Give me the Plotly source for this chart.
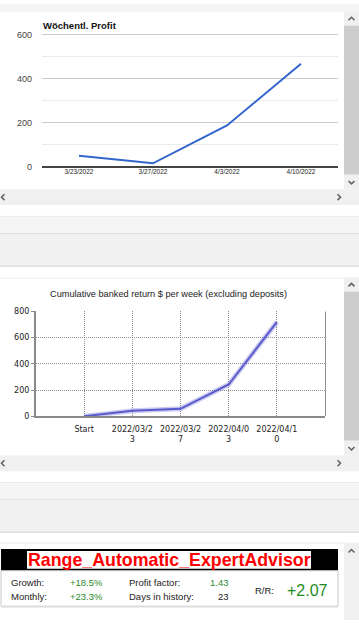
import plotly.graph_objects as go

# ---------------- data ----------------
weekly_dates = ["3/23/2022", "3/27/2022", "4/3/2022", "4/10/2022"]
weekly_profit = [49, 15, 187, 467]

cum_weeks = ["Start", "2022/03/23", "2022/03/27", "2022/04/03", "2022/04/10"]
cum_return = [0, 42, 57, 242, 717]

ea_name = "Range_Automatic_ExpertAdvisor"
stat_labels_a = ["Growth:", "Monthly:"]
stat_values_a = ["+18.5%", "+23.3%"]
stat_labels_b = ["Profit factor:", "Days in history:"]
stat_values_b = ["1.43", "23"]
stat_values_b_colors = ["#2e8b2e", "#222222"]
rr_label = "R/R:"
rr_value = "+2.07"

title1 = "Wöchentl. Profit"
title2 = "Cumulative banked return $ per week (excluding deposits)"

# ---------------- helpers ----------------
W, H = 359, 625
def fx(x): return x / W
def fy(y): return 1 - y / H

FONT = "Arial, 'Liberation Sans', sans-serif"
TAHOMA = "'DejaVu Sans', Verdana, sans-serif"

shapes = []
annotations = []

def rect(x0, y0, x1, y1, fill, line=None, lw=0):
    shapes.append(dict(type="rect", xref="paper", yref="paper",
                       x0=fx(x0), x1=fx(x1), y0=fy(y1), y1=fy(y0),
                       fillcolor=fill, line=dict(color=line or fill, width=lw),
                       layer="below"))

def hline(x0, x1, y, color, w=1):
    shapes.append(dict(type="line", xref="paper", yref="paper",
                       x0=fx(x0), x1=fx(x1), y0=fy(y), y1=fy(y),
                       line=dict(color=color, width=w), layer="below"))

def chevron(cx, cy, d):
    s = 3
    if d == "up":
        pts = [(cx - s, cy + 1.5), (cx, cy - 1.5), (cx + s, cy + 1.5)]
    elif d == "down":
        pts = [(cx - s, cy - 1.5), (cx, cy + 1.5), (cx + s, cy - 1.5)]
    elif d == "left":
        pts = [(cx + 1.5, cy - s), (cx - 1.5, cy), (cx + 1.5, cy + s)]
    else:
        pts = [(cx - 1.5, cy - s), (cx + 1.5, cy), (cx - 1.5, cy + s)]
    path = "M " + " L ".join(f"{fx(a)},{fy(b)}" for a, b in pts)
    shapes.append(dict(type="path", xref="paper", yref="paper", path=path,
                       line=dict(color="#606060", width=1.5), layer="above"))

def text(x, y, t, size=10, color="#222", xanchor="left", family=FONT, bold=False):
    if bold:
        t = f"<b>{t}</b>"
    annotations.append(dict(x=fx(x), y=fy(y), xref="paper", yref="paper", text=t,
                            showarrow=False, xanchor=xanchor, yanchor="middle",
                            font=dict(size=size, color=color, family=family),
                            borderpad=0))

# ---------------- page background ----------------
rect(0, 0, 359, 8, "#f4f4f4")
# panel 1 scrollbars
rect(344, 8, 359, 188, "#f0f0f0")
rect(344, 22, 359, 173, "#cdcdcd")
chevron(351.5, 15, "up"); chevron(351.5, 181, "down")
rect(0, 188, 359, 204, "#f0f0f0")
chevron(3, 196, "left"); chevron(339, 196, "right")
# separator bands
rect(0, 215, 359, 233, "#f5f5f5"); hline(0, 359, 215.5, "#ececec"); hline(0, 359, 233, "#d6d6d6")
rect(0, 233, 359, 266, "#f1f1f1"); hline(0, 359, 266, "#d6d6d6")
hline(0, 359, 278, "#ededed")
# panel 2 scrollbars
rect(344, 278, 359, 458, "#f0f0f0")
rect(344, 292, 359, 443, "#cdcdcd")
chevron(351.5, 285, "up"); chevron(351.5, 451, "down")
rect(0, 458, 359, 474, "#f0f0f0")
chevron(3, 466, "left"); chevron(339, 466, "right")
rect(0, 485, 359, 503, "#f5f5f5"); hline(0, 359, 485.5, "#ececec"); hline(0, 359, 503, "#d6d6d6")
rect(0, 503, 359, 536, "#f1f1f1"); hline(0, 359, 536, "#d6d6d6")
hline(0, 359, 547, "#ededed")
# panel 3
rect(344, 547, 359, 625, "#f0f0f0")
chevron(351.5, 555, "up")
rect(1, 553, 338, 575, "#000000")
rect(27, 555, 311, 573, "#ffffff")
rect(1, 575, 338, 611, "#ffffff", line="#c8c8c8", lw=1)
hline(1, 338, 612, "#e4e4e4", 1)

# ---------------- stats text ----------------
text(169, 564.5, ea_name, size=17.8, color="#ff0000", xanchor="center", bold=True)
rows_y = [587, 601]
for i in range(2):
    text(10, rows_y[i], stat_labels_a[i], size=9.5, color="#222")
    text(69, rows_y[i], stat_values_a[i], size=9.5, color="#2e8b2e")
    text(128, rows_y[i], stat_labels_b[i], size=9.5, color="#222")
    text(230, rows_y[i], stat_values_b[i], size=9.5, color=stat_values_b_colors[i], xanchor="right")
text(254, 595, rr_label, size=9.5, color="#222")
text(286, 595, rr_value, size=16, color="#1e8c1e")

# titles
text(42, 22, title1, size=9.5, color="#111", bold=True)
text(168, 294, title2, size=9.2, color="#222", xanchor="center")

# ---------------- charts ----------------
fig = go.Figure()

fig.add_trace(go.Scatter(x=weekly_dates, y=weekly_profit, mode="lines",
                         line=dict(color="#3366cc", width=2),
                         xaxis="x", yaxis="y", hoverinfo="skip"))

fig.add_trace(go.Scatter(x=cum_weeks, y=cum_return, mode="lines",
                         line=dict(color="rgba(110,110,215,0.35)", width=5),
                         xaxis="x2", yaxis="y2", hoverinfo="skip"))
fig.add_trace(go.Scatter(x=cum_weeks, y=cum_return, mode="lines",
                         line=dict(color="#5a5acc", width=2),
                         xaxis="x2", yaxis="y2", hoverinfo="skip"))

# right border of chart 2
shapes.append(dict(type="line", xref="paper", yref="paper",
                   x0=fx(325.5), x1=fx(325.5), y0=fy(418), y1=fy(312),
                   line=dict(color="#909090", width=1)))

wrapped = [w if len(w) <= 9 else w[:9] + "<br>" + w[9:] for w in cum_weeks]

fig.update_layout(
    width=W, height=H,
    margin=dict(l=0, r=0, t=0, b=0),
    paper_bgcolor="#ffffff", plot_bgcolor="rgba(0,0,0,0)",
    showlegend=False,
    shapes=shapes, annotations=annotations,
    xaxis=dict(domain=[fx(42), fx(338)], type="category", range=[-0.5, 3.5],
               showgrid=False, showline=False, zeroline=False, ticks="",
               tickfont=dict(size=6.5, color="#222", family=FONT), anchor="y",
               fixedrange=True),
    yaxis=dict(domain=[fy(165), fy(28)], range=[0, 613], tickvals=[0, 200, 400, 600],
               showgrid=True, gridcolor="#cccccc", gridwidth=1,
               minor=dict(tickvals=[100, 300, 500], showgrid=True, gridcolor="#ebebeb"),
               zeroline=True, zerolinecolor="#444444", zerolinewidth=1.5,
               showline=False, ticks="", ticklabelstandoff=9,
               tickfont=dict(size=9, color="#444", family=FONT), anchor="x",
               fixedrange=True),
    xaxis2=dict(domain=[fx(36), fx(325)], type="category", range=[-1, 5],
                tickvals=cum_weeks, ticktext=wrapped,
                showgrid=True, gridcolor="#909090", griddash="1px,1px", gridwidth=1,
                showline=True, linecolor="#8a8a8a", linewidth=1.5,
                zeroline=False, ticks="", ticklabelstandoff=4,
                tickfont=dict(size=8, color="#222", family=TAHOMA), anchor="y2",
                fixedrange=True),
    yaxis2=dict(domain=[fy(418.3), fy(311.7)], range=[0, 800], dtick=200,
                showgrid=True, gridcolor="#909090", griddash="1px,1px", gridwidth=1,
                showline=True, linecolor="#8a8a8a", linewidth=2,
                zeroline=False, ticks="outside", ticklen=3, tickcolor="#8a8a8a",
                tickfont=dict(size=8, color="#222", family=TAHOMA), anchor="x2",
                fixedrange=True),
)

fig.write_html("out.html", config={"displayModeBar": False})
